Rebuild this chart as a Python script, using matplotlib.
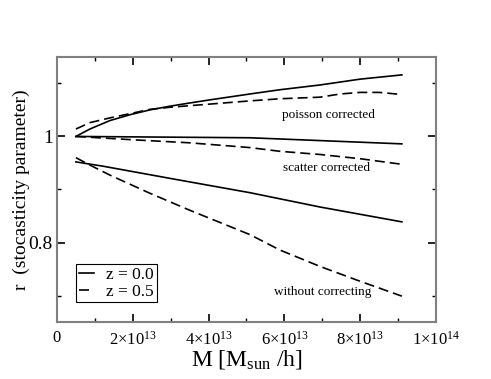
import matplotlib.pyplot as plt
import matplotlib.ticker as ticker

plt.rcParams.update({
    "font.family": "serif",
    "font.serif": ["Liberation Serif", "DejaVu Serif"],
    "mathtext.fontset": "custom",
    "mathtext.rm": "Liberation Serif",
    "mathtext.it": "Liberation Serif:italic",
})

# poisson corrected
m_pc0 = [0.5e13, 0.87e13, 1.4e13, 1.93e13, 2.45e13, 2.98e13, 3.5e13, 4.04e13,
         5.09e13, 5.88e13, 6.94e13, 8.0e13, 9.1e13]
r_pc0 = [1.000, 1.014, 1.030, 1.041, 1.050, 1.057, 1.063, 1.069,
         1.080, 1.088, 1.097, 1.108, 1.116]
m_pc5 = [0.5e13, 0.87e13, 1.4e13, 1.93e13, 2.45e13, 2.98e13, 4.04e13, 5.09e13,
         5.88e13, 6.94e13, 7.47e13, 8.0e13, 8.5e13, 9.1e13]
r_pc5 = [1.014, 1.026, 1.035, 1.043, 1.051, 1.055, 1.061, 1.067,
         1.071, 1.074, 1.080, 1.083, 1.083, 1.079]

# scatter corrected
m_sc0 = [0.5e13, 5.09e13, 9.1e13]
r_sc0 = [1.000, 0.9975, 0.986]
m_sc5 = [0.5e13, 1.93e13, 3.5e13, 5.09e13, 5.88e13, 6.94e13, 8.0e13, 9.1e13]
r_sc5 = [1.000, 0.994, 0.988, 0.979, 0.972, 0.966, 0.958, 0.9475]

# without correcting
m_wc0 = [0.5e13, 1.21e13, 2.98e13, 5.09e13, 6.94e13, 9.1e13]
r_wc0 = [0.952, 0.944, 0.921, 0.894, 0.867, 0.839]
m_wc5 = [0.5e13, 0.87e13, 1.4e13, 2.45e13, 3.5e13, 5.09e13, 5.88e13, 6.94e13,
         8.0e13, 9.1e13]
r_wc5 = [0.960, 0.946, 0.927, 0.893, 0.861, 0.815, 0.786, 0.755,
         0.727, 0.699]

xticks = [0, 2e13, 4e13, 6e13, 8e13, 1e14]
xticklabels = ["0", r"2$\times$10$^{13}$", r"4$\times$10$^{13}$",
               r"6$\times$10$^{13}$", r"8$\times$10$^{13}$", r"1$\times$10$^{14}$"]

fig = plt.figure(figsize=(4.91, 3.79), dpi=100)
ax = fig.add_axes([0.116, 0.150, 0.772, 0.700])

dash = (0, (6, 3))
ax.plot(m_pc0, r_pc0, color="black", lw=1.2, label="z = 0.0")
ax.plot(m_pc5, r_pc5, color="black", lw=1.2, ls=dash, label="z = 0.5")
ax.plot(m_sc0, r_sc0, color="black", lw=1.2)
ax.plot(m_sc5, r_sc5, color="black", lw=1.2, ls=dash)
ax.plot(m_wc0, r_wc0, color="black", lw=1.2)
ax.plot(m_wc5, r_wc5, color="black", lw=1.2, ls=dash)

ax.text(7.15e13, 1.041, "poisson corrected", fontsize=9.5, ha="center", va="center")
ax.text(7.1e13, 0.941, "scatter corrected", fontsize=9.5, ha="center", va="center")
ax.text(7.0e13, 0.706, "without correcting", fontsize=9.5, ha="center", va="center")

ax.set_xlim(0, 1e14)
ax.set_ylim(0.65, 1.15)
ax.set_xticks(xticks)
ax.set_xticklabels(xticklabels)
ax.xaxis.set_minor_locator(ticker.MultipleLocator(1e13))
ax.set_yticks([0.8, 1.0])
ax.set_yticklabels(["0.8", "1"])
ax.yaxis.set_minor_locator(ticker.FixedLocator([0.7, 0.9, 1.1]))

ax.tick_params(which="both", direction="in", top=True, right=True, color="black")
ax.tick_params(which="major", length=6, width=1.2, labelsize=12, pad=6)
ax.tick_params(which="minor", length=3, width=1.0)
ax.tick_params(axis="y", labelsize=14, pad=3)
for s in ax.spines.values():
    s.set_color("#808080")
    s.set_linewidth(1.5)

ax.set_xlabel(r"M [M$_{\rm sun}$ /h]", fontsize=17, labelpad=0)
ax.set_ylabel("r  (stocasticity parameter)", fontsize=14)
ax.yaxis.set_label_coords(-0.072, 0.5)

leg = ax.legend(loc="lower left", bbox_to_anchor=(0.05, 0.075), fontsize=12.5,
                handlelength=0.9, handletextpad=0.7, borderpad=0.15,
                labelspacing=0.05, fancybox=False, framealpha=1,
                borderaxespad=0)
leg.get_frame().set_edgecolor("black")
leg.get_frame().set_linewidth(0.8)

fig.savefig("out.png", dpi=100)
